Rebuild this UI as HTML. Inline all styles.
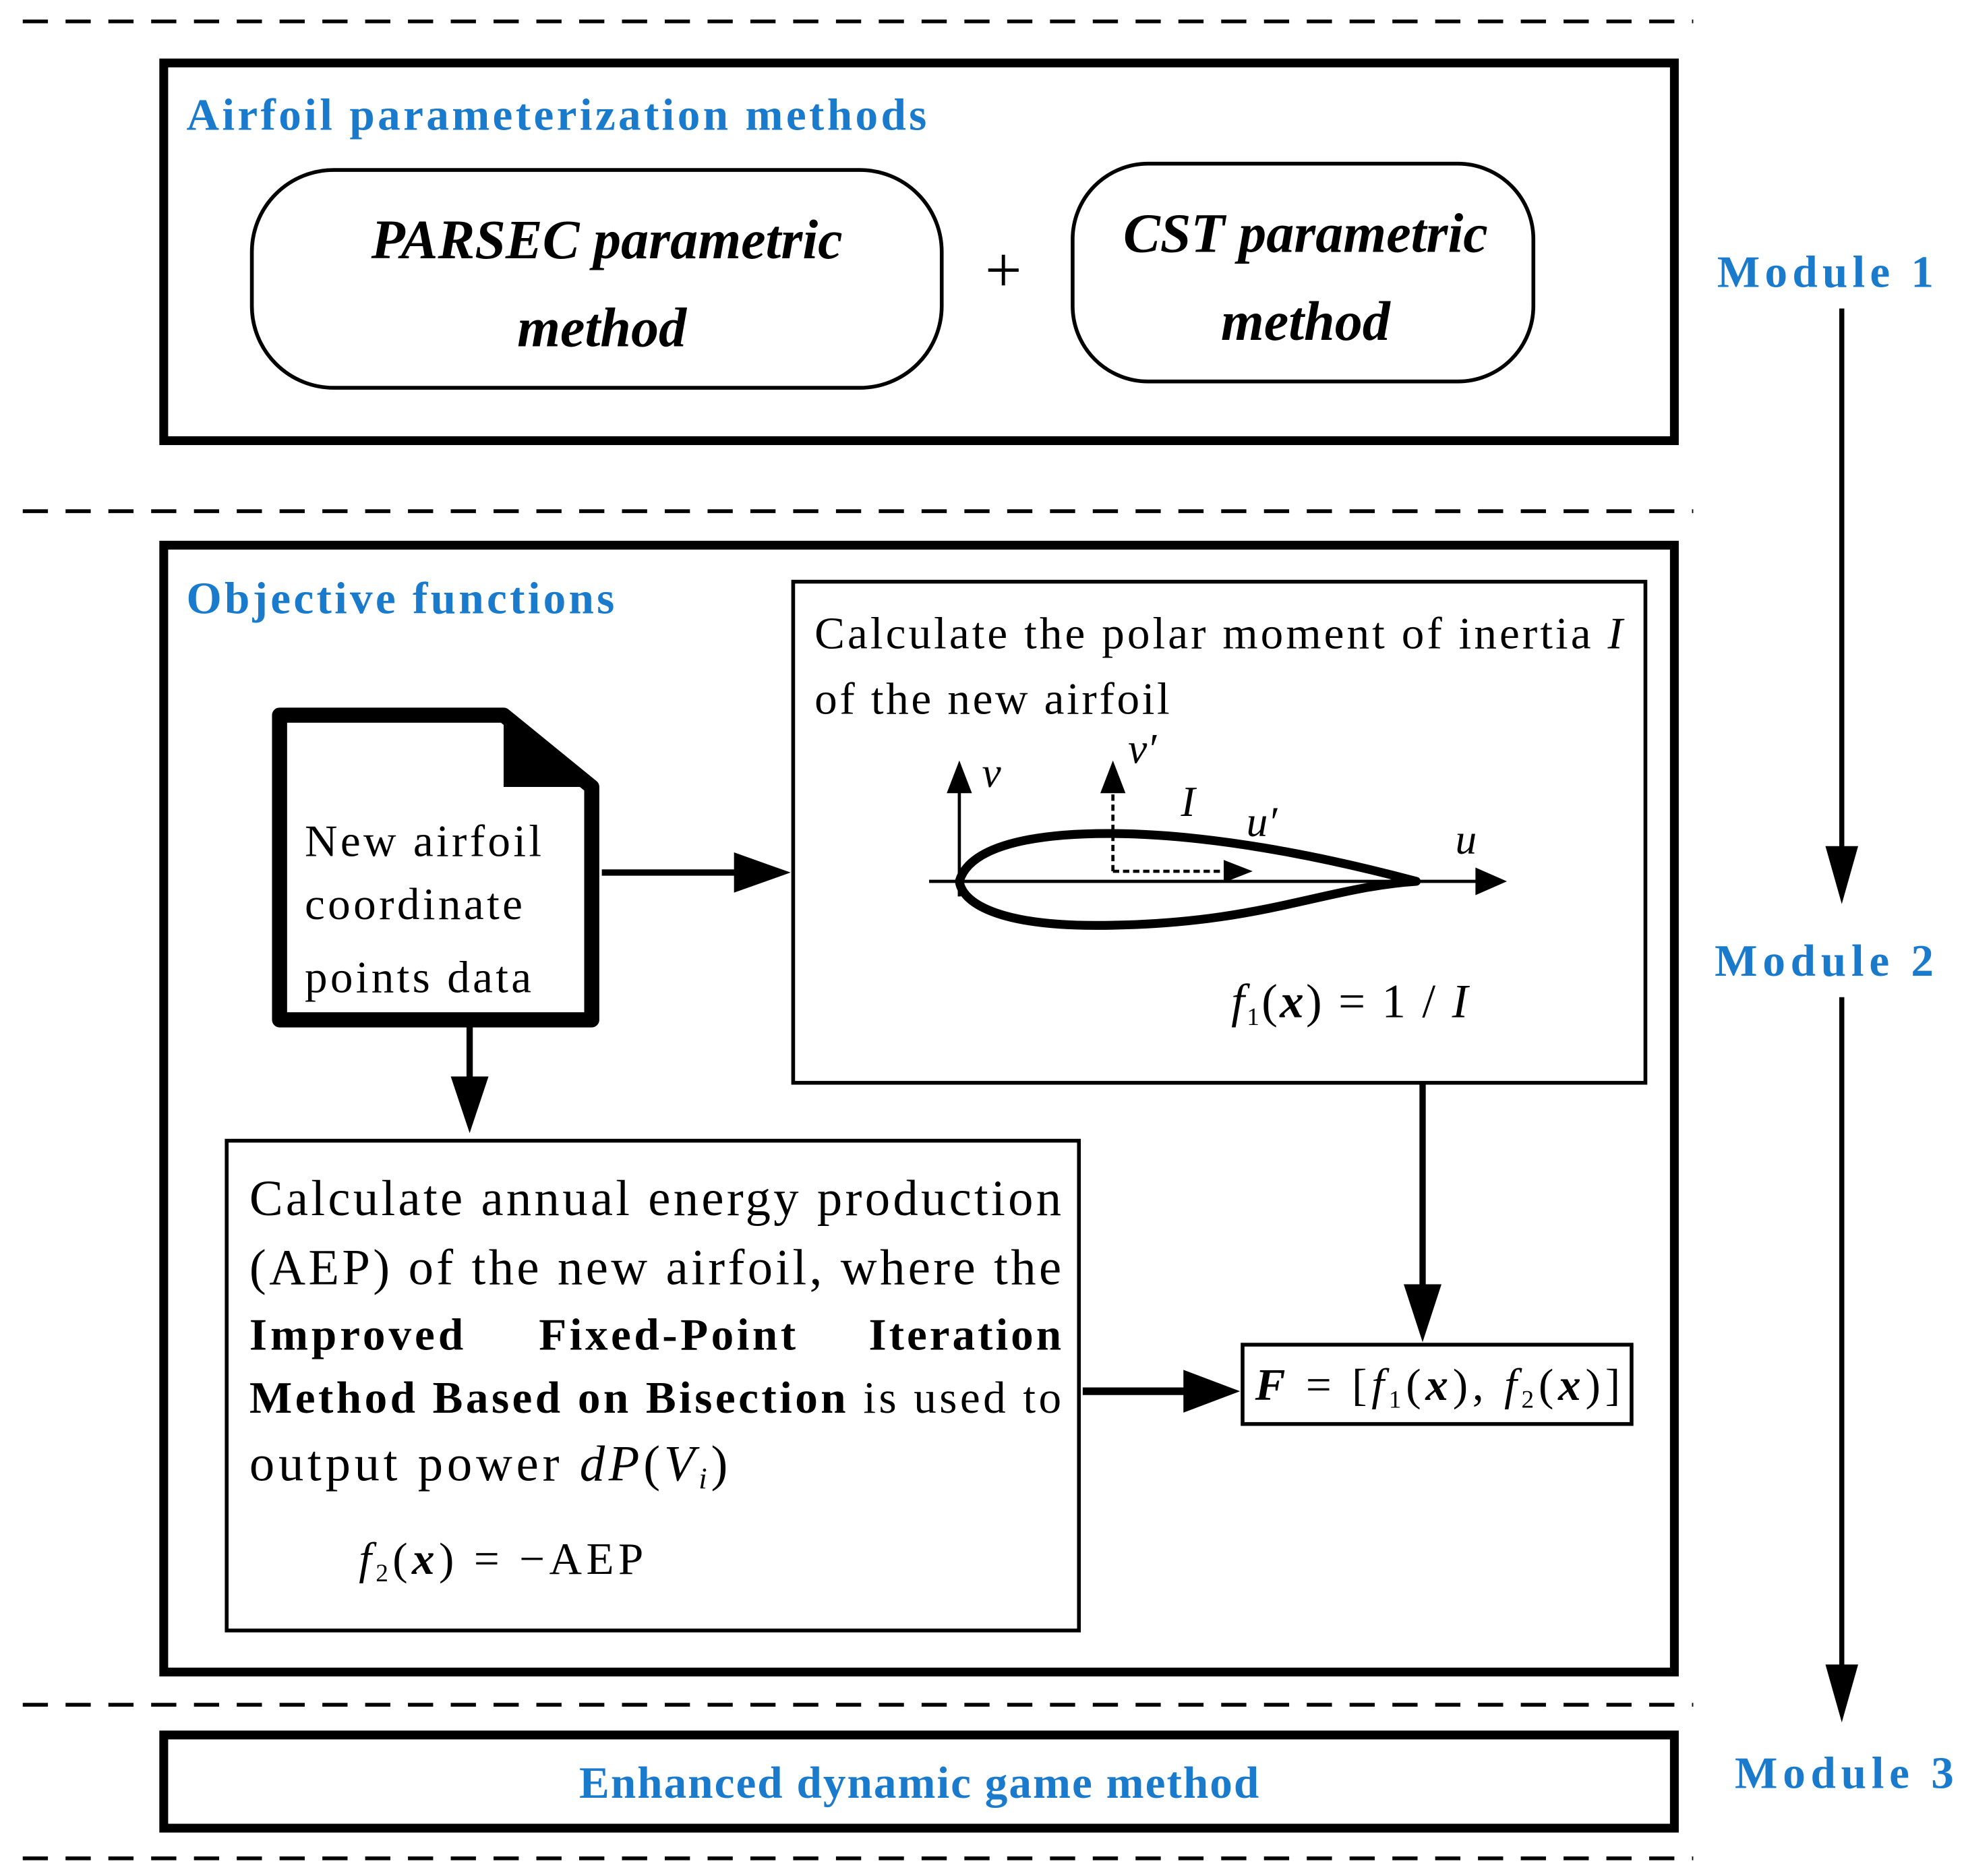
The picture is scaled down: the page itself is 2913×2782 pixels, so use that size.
<!DOCTYPE html>
<html><head><meta charset="utf-8"><style>html,body{margin:0;padding:0;background:#fff}svg{display:block}</style></head>
<body>
<svg width="2913" height="2782" viewBox="0 0 1560 1490" xmlns="http://www.w3.org/2000/svg" font-family="Liberation Serif, serif">
<g stroke="#000" stroke-width="3" stroke-dasharray="20,14">
<line x1="18" y1="17" x2="1345" y2="17"/><line x1="18" y1="406" x2="1345" y2="406"/>
<line x1="18" y1="1354" x2="1345" y2="1354"/><line x1="18" y1="1476" x2="1345" y2="1476"/>
</g>
<g fill="none" stroke="#000">
<rect x="130" y="50" width="1200" height="300" stroke-width="7"/>
<rect x="130" y="433" width="1200" height="895" stroke-width="7"/>
<rect x="130" y="1378" width="1200" height="74" stroke-width="7"/>
<rect x="200" y="135" width="548" height="173" rx="65" stroke-width="3"/>
<rect x="852" y="130" width="366" height="173" rx="60" stroke-width="3"/>
<rect x="630" y="462" width="677" height="398" stroke-width="3"/>
<rect x="180" y="906" width="677" height="389" stroke-width="3"/>
<rect x="987" y="1068" width="309" height="63" stroke-width="3"/>
<path d="M222,568 L400,568 L470,625 L470,810 L222,810 Z" stroke-width="12" stroke-linejoin="round"/>
</g>
<path d="M400,568 L400,625 L470,625 Z" fill="#000"/>
<g fill="#1a7acb" font-weight="bold" font-size="36">
<text x="148" y="103" textLength="588">Airfoil parameterization methods</text>
<text x="148" y="487" textLength="340">Objective functions</text>
<text x="1364" y="228" textLength="172">Module  1</text>
<text x="1362" y="775" textLength="174">Module  2</text>
<text x="1378" y="1420" textLength="174">Module  3</text>
<text x="460" y="1428" textLength="540">Enhanced dynamic game method</text>
</g>
<g font-style="italic" font-weight="bold" font-size="44" text-anchor="middle">
<text x="482" y="205">PARSEC parametric</text><text x="478" y="275">method</text>
<text x="1037" y="200">CST parametric</text><text x="1037" y="270">method</text>
</g>
<text x="797" y="232" font-size="52" text-anchor="middle">+</text>
<g font-size="36">
<text x="647" y="515" textLength="642">Calculate the polar moment of inertia <tspan font-style="italic">I</tspan></text>
<text x="647" y="567" textLength="282">of the new airfoil</text>
<text x="242" y="680" textLength="188">New airfoil</text><text x="242" y="730" textLength="173">coordinate</text><text x="242" y="788" textLength="180">points data</text>
<text x="978" y="808" font-size="38" textLength="188"><tspan font-style="italic">f</tspan><tspan font-size="20" dy="6">1</tspan><tspan dy="-6">(</tspan><tspan font-style="italic" font-weight="bold">x</tspan>) = 1 / <tspan font-style="italic">I</tspan></text>
<text x="198" y="965" textLength="645" font-size="40">Calculate annual energy production</text>
<text x="198" y="1020" textLength="645" font-size="40">(AEP) of the new airfoil, where the</text>
<text x="198" y="1072" font-weight="bold" textLength="170">Improved</text>
<text x="428" y="1072" font-weight="bold" textLength="204">Fixed-Point</text>
<text x="690" y="1072" font-weight="bold" textLength="153">Iteration</text>
<text x="198" y="1122" textLength="645"><tspan font-weight="bold">Method Based on Bisection</tspan> is used to</text>
<text x="198" y="1176" font-size="40" textLength="380">output power <tspan font-style="italic">dP</tspan>(<tspan font-style="italic">V</tspan><tspan font-style="italic" font-size="24" dy="6">i</tspan><tspan dy="-6">)</tspan></text>
<text x="285" y="1250" textLength="226"><tspan font-style="italic">f</tspan><tspan font-size="20" dy="6">2</tspan><tspan dy="-6">(</tspan><tspan font-style="italic" font-weight="bold">x</tspan>) = −AEP</text>
<text x="997" y="1112" textLength="290"><tspan font-style="italic" font-weight="bold">F</tspan> = [<tspan font-style="italic">f</tspan><tspan font-size="20" dy="6">1</tspan><tspan dy="-6">(</tspan><tspan font-style="italic" font-weight="bold">x</tspan>), <tspan font-style="italic">f</tspan><tspan font-size="20" dy="6">2</tspan><tspan dy="-6">(</tspan><tspan font-style="italic" font-weight="bold">x</tspan>)]</text>
</g>
<g font-style="italic" font-size="34">
<text x="780" y="625">v</text><text x="896" y="606">v′</text><text x="938" y="648">I</text><text x="990" y="664">u′</text><text x="1156" y="678">u</text>
</g>
<g stroke="#000" fill="none">
<line x1="1463" y1="245" x2="1463" y2="675" stroke-width="4"/>
<line x1="1463" y1="792" x2="1463" y2="1325" stroke-width="4"/>
<line x1="478" y1="693" x2="585" y2="693" stroke-width="5"/>
<line x1="373" y1="815" x2="373" y2="858" stroke-width="5"/>
<line x1="1130" y1="860" x2="1130" y2="1022" stroke-width="5"/>
<line x1="860" y1="1105" x2="942" y2="1105" stroke-width="6"/>
<line x1="762" y1="712" x2="762" y2="625" stroke-width="2.5"/>
<line x1="738" y1="700" x2="1178" y2="700" stroke-width="2.5"/>
<line x1="884" y1="692" x2="884" y2="625" stroke-width="2.5" stroke-dasharray="5,3"/>
<line x1="884" y1="692" x2="975" y2="692" stroke-width="2.5" stroke-dasharray="5,3"/>
<path d="M762,700 C770,672 820,662 880,662 C960,662 1050,680 1125,700 C1050,705 1000,735 870,735 C800,735 765,720 762,700 Z" stroke-width="7" stroke-linejoin="round"/>
</g>
<g fill="#000">
<path d="M1450,672 L1476,672 L1463,718 Z"/>
<path d="M1450,1322 L1476,1322 L1463,1368 Z"/>
<path d="M583,677 L628,693 L583,709 Z"/>
<path d="M358,855 L388,855 L373,900 Z"/>
<path d="M1115,1020 L1145,1020 L1130,1066 Z"/>
<path d="M940,1088 L985,1105 L940,1122 Z"/>
<path d="M752,630 L762,604 L772,630 Z"/>
<path d="M874,630 L884,604 L894,630 Z"/>
<path d="M1172,689 L1197,700 L1172,711 Z"/>
<path d="M972,683 L995,692 L972,701 Z"/>
</g>
</svg>
</body></html>
